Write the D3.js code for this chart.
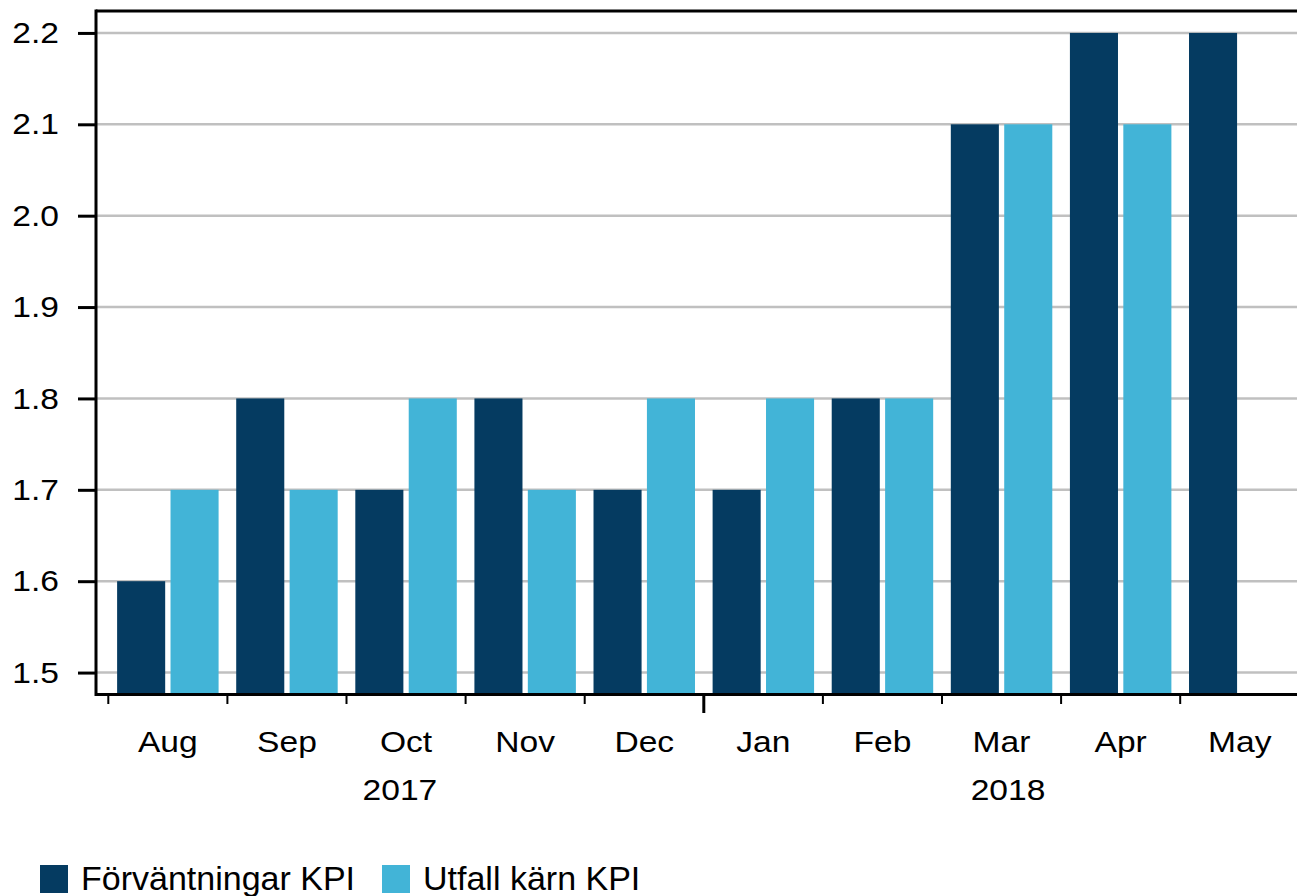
<!DOCTYPE html>
<html>
<head>
<meta charset="utf-8">
<script src="https://cdn.jsdelivr.net/npm/d3@7"></script>
<style>
  body { margin: 0; background: #fff; }
  svg { display: block; font-family: "Liberation Sans", Arial, sans-serif; }
</style>
</head>
<body>
<script>
/* global d3 */

var months = ['Aug', 'Sep', 'Oct', 'Nov', 'Dec', 'Jan', 'Feb', 'Mar', 'Apr', 'May'];
var forvantningar = [1.6, 1.8, 1.7, 1.8, 1.7, 1.7, 1.8, 2.1, 2.2, 2.2];
var utfall = [1.7, 1.7, 1.8, 1.7, 1.8, 1.8, 1.8, 2.1, 2.1, null];
var yTicks = [1.5, 1.6, 1.7, 1.8, 1.9, 2.0, 2.1, 2.2];
var yearLabels = ['2017', '2018'];
var yearFirst = ['Aug', 'Jan'];
var seriesNames = ['Förväntningar KPI', 'Utfall kärn KPI'];
var colors = ['#053b61', '#42b4d7'];

var W = 1297, H = 896;
var plotLeft = 96, plotTop = 11, plotBottom = 694.5;
var stretch = 1.12; // axis text in the source is a bit wide

var svg = d3.select('body').append('svg')
  .attr('width', W).attr('height', H);

var x = d3.scaleBand().domain(months).range([108.3, 1299.3]);
var xs = d3.scaleBand().domain([0, 1]).range([0, x.bandwidth()])
  .paddingInner(0.1).paddingOuter(0.165);
var y = d3.scaleLinear().domain([1.476, 2.224]).range([plotBottom, plotTop]);

// gridlines
svg.append('g').selectAll('line')
  .data(yTicks).enter()
  .append('line')
  .attr('x1', plotLeft).attr('x2', W)
  .attr('y1', d => y(d)).attr('y2', d => y(d))
  .attr('stroke', '#c0c0c0').attr('stroke-width', 2.5);

// bars
var rows = months.map((m, i) => ({ month: m, values: [forvantningar[i], utfall[i]] }));
svg.append('g').selectAll('g')
  .data(rows).enter()
  .append('g')
  .attr('transform', d => `translate(${x(d.month)},0)`)
  .selectAll('rect')
  .data(d => d.values.map((v, k) => ({ k: k, v: v })).filter(e => e.v != null))
  .enter().append('rect')
  .attr('x', d => xs(d.k))
  .attr('width', xs.bandwidth())
  .attr('y', d => y(d.v))
  .attr('height', d => plotBottom - y(d.v))
  .attr('fill', d => colors[d.k]);

// y axis
var yAxis = svg.append('g')
  .attr('transform', `translate(${plotLeft},0)`)
  .call(d3.axisLeft(y).tickValues(yTicks).tickSize(18).tickPadding(19).tickFormat(d3.format('.1f')));
yAxis.select('.domain').remove();
yAxis.selectAll('.tick line').attr('stroke', '#000').attr('stroke-width', 3);
yAxis.selectAll('.tick text')
  .attr('x', -37 / stretch)
  .attr('transform', `scale(${stretch},1)`)
  .attr('fill', '#000')
  .style('font-size', '30px');

// month labels
var xAxis = svg.append('g')
  .attr('transform', `translate(0,${plotBottom})`)
  .call(d3.axisBottom(x).tickSize(0).tickPadding(0));
xAxis.select('.domain').remove();
xAxis.selectAll('.tick text')
  .attr('y', 57.5).attr('dy', null)
  .attr('transform', `scale(${stretch},1)`)
  .attr('fill', '#000')
  .style('font-size', '30px');

// boundary ticks
var bounds = months.map(m => x(m)).concat([x.range()[1]]);
svg.append('g').selectAll('line')
  .data(bounds).enter()
  .append('line')
  .attr('x1', d => d).attr('x2', d => d)
  .attr('y1', plotBottom)
  .attr('y2', (d, i) => months[i] === yearFirst[1] ? 713 : 704)
  .attr('stroke', '#000')
  .attr('stroke-width', (d, i) => months[i] === yearFirst[1] ? 3 : 2);

// year labels, centred on the span of each year (nudged like the source)
var yearEdges = [plotLeft, x(yearFirst[1]), x.range()[1]];
var yearNudge = [0, 6.5];
svg.append('g').selectAll('text')
  .data(yearLabels).enter()
  .append('text')
  .attr('transform', (d, i) => {
    var cx = (yearEdges[i] + yearEdges[i + 1]) / 2 + yearNudge[i];
    return `translate(${cx},800) scale(${stretch},1)`;
  })
  .attr('text-anchor', 'middle')
  .style('font-size', '30px')
  .text(d => d);

// frame
svg.append('line')
  .attr('x1', plotLeft).attr('x2', plotLeft).attr('y1', plotTop - 1.5).attr('y2', plotBottom + 1.5)
  .attr('stroke', '#000').attr('stroke-width', 3);
svg.append('line')
  .attr('x1', plotLeft).attr('x2', W).attr('y1', plotBottom).attr('y2', plotBottom)
  .attr('stroke', '#000').attr('stroke-width', 3);
svg.append('line')
  .attr('x1', plotLeft).attr('x2', W).attr('y1', plotTop).attr('y2', plotTop)
  .attr('stroke', '#000').attr('stroke-width', 3);

// legend
var legendX = [40, 382];
var legend = svg.append('g').selectAll('g')
  .data(seriesNames).enter()
  .append('g')
  .attr('transform', (d, i) => `translate(${legendX[i]},865)`);
legend.append('rect')
  .attr('width', 28).attr('height', 28)
  .attr('fill', (d, i) => colors[i]);
legend.append('text')
  .attr('x', 41).attr('y', 25)
  .style('font-size', '34px')
  .text(d => d);
</script>
</body>
</html>
